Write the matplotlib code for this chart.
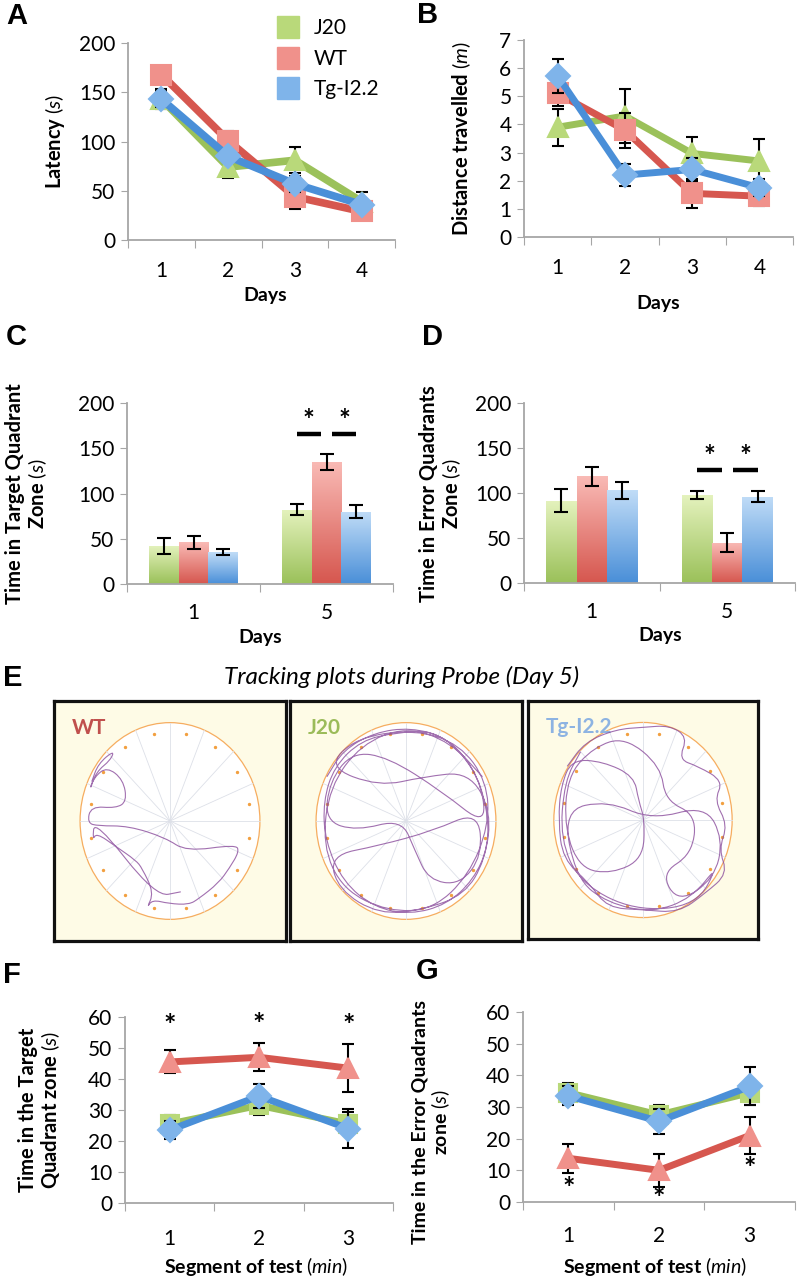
import numpy as np
import matplotlib.pyplot as plt
from matplotlib.lines import Line2D
from matplotlib.patches import Ellipse, PathPatch
from matplotlib.path import Path
import matplotlib.colors as mcolors

plt.rcParams['font.family'] = ['Lato', 'DejaVu Sans']
plt.rcParams['mathtext.fontset'] = 'custom'
plt.rcParams['mathtext.rm'] = 'Lato'
plt.rcParams['mathtext.it'] = 'Lato:italic'
plt.rcParams['mathtext.bf'] = 'Lato:bold'

W, H = 799, 1280

groups = ['J20', 'WT', 'Tg-I2.2']

# A - latency (s), training days 1-4
days_ab = [1, 2, 3, 4]
lat_j20 = [143, 74, 81, 39]
lat_j20_err = [10, 11, 13, 10]
lat_wt = [168, 101, 44, 29]
lat_wt_err = [8, 10, 13, 6]
lat_tg = [143, 85, 57, 36]
lat_tg_err = [8, 6, 8, 5]

# B - distance travelled (m)
dist_j20 = [3.9, 4.3, 2.97, 2.7]
dist_j20_err = [0.65, 0.95, 0.6, 0.8]
dist_wt = [5.1, 3.8, 1.55, 1.45]
dist_wt_err = [0.45, 0.62, 0.52, 0.35]
dist_tg = [5.72, 2.2, 2.4, 1.75]
dist_tg_err = [0.6, 0.38, 0.4, 0.3]

# C / D - probe, days 1 and 5
days_cd = ['1', '5']
target_j20 = [42, 82]
target_j20_err = [8.5, 6]
target_wt = [46, 135]
target_wt_err = [7.5, 8.5]
target_tg = [35, 80]
target_tg_err = [3.5, 7.5]

error_j20 = [91.5, 97.5]
error_j20_err = [13, 4.5]
error_wt = [118.5, 45]
error_wt_err = [10.5, 10.5]
error_tg = [103, 96]
error_tg_err = [9.5, 6]

# F / G - per-minute segment of the probe test
segments = [1, 2, 3]
seg_target_j20 = [25.5, 31.5, 25.5]
seg_target_j20_err = [3, 3, 3.7]
seg_target_wt = [45.5, 47, 43.5]
seg_target_wt_err = [3.7, 4.5, 7.7]
seg_target_tg = [23.5, 34.5, 24]
seg_target_tg_err = [3, 4, 6.2]

seg_error_j20 = [34.5, 27.5, 34.5]
seg_error_j20_err = [3, 3, 4]
seg_error_wt = [13.8, 10, 21]
seg_error_wt_err = [4.6, 5.3, 5.8]
seg_error_tg = [33.5, 25.5, 36.5]
seg_error_tg_err = [3, 4, 6]

f_star_y = [57, 57.5, 57]
g_star_y = [4.0, 1.0, 10.5]

# E - tracking paths (normalised pool coordinates)
wt_track_x = [-0.87, -0.80, -0.62, -0.66, -0.82, -0.90, -0.84, -0.70, -0.52, -0.48, -0.60, -0.88,
              -0.92, -0.80, -0.46, -0.05, 0.18, 0.73, 0.77, 0.66, 0.54, 0.32, 0.21, -0.01, -0.20,
              -0.26, -0.18, -0.31, -0.38, -0.60, -0.82, -0.86, -0.84, -0.16, 0.12]
wt_track_y = [0.40, 0.58, 0.72, 0.62, 0.50, 0.30, 0.45, 0.55, 0.42, 0.20, 0.13, 0.15,
              -0.02, -0.05, -0.05, -0.17, -0.31, -0.24, -0.31, -0.48, -0.63, -0.79, -0.85, -0.84, -0.80,
              -0.89, -0.73, -0.48, -0.40, -0.26, -0.12, -0.20, 0.02, -0.77, -0.72]

j20_track_x = [-0.88, -0.70, -0.35, 0.05, 0.45, 0.75, 0.90, 0.92, 0.75, 0.45, 0.05, -0.35, -0.70,
               -0.90, -0.92, -0.80, -0.50, -0.10, 0.30, 0.62, 0.85, 0.88, 0.40, -0.20, -0.60, -0.85,
               -0.90, -0.55, -0.05, 0.10, 0.25, 0.60, 0.85, 0.80, 0.30, -0.30, -0.85, -0.75, -0.30,
               0.20, 0.65, 0.88, 0.95, 0.70, 0.20, -0.30, -0.88, -0.55, 0.10, 0.60, 0.90, 0.92,
               0.70, 0.30, -0.20, -0.70, -0.93, -0.85, -0.50, 0.00, 0.50, 0.85]
j20_track_y = [0.45, 0.72, 0.90, 0.95, 0.85, 0.55, 0.15, -0.25, -0.60, -0.85, -0.95, -0.88, -0.62,
               -0.20, 0.20, 0.55, 0.82, 0.90, 0.92, 0.70, 0.35, -0.05, 0.30, 0.65, 0.70, 0.40,
               0.00, -0.10, 0.02, -0.30, -0.60, -0.65, -0.35, 0.10, -0.10, -0.25, -0.35, -0.70, -0.95,
               -0.90, -0.75, -0.40, 0.10, 0.50, 0.45, 0.35, 0.55, 0.85, 0.93, 0.78, 0.40, -0.05,
               -0.55, -0.90, -0.92, -0.70, -0.25, 0.35, 0.78, 0.96, 0.80, 0.45]

tg_track_x = [-0.85, -0.65, -0.30, 0.00, 0.30, 0.50, 0.40, 0.62, 0.90, 0.80, 0.95, 0.85, 0.95,
              0.70, 0.40, 0.00, -0.40, -0.60, -0.90, -0.95, -0.92, -0.80, -0.45, -0.10, -0.05, 0.02,
              0.00, -0.35, -0.70, -0.88, -0.85, -0.55, -0.20, 0.20, 0.25, 0.60, 0.55, 0.20, 0.40,
              0.80, 0.90, 0.70, 0.10, -0.40, -0.90, -0.75, -0.40, 0.10, 0.55, 0.85, 0.60, -0.10,
              -0.70, -0.93, -0.88, -0.70]
tg_track_y = [0.55, 0.80, 0.93, 0.95, 0.97, 0.85, 0.62, 0.55, 0.40, 0.20, -0.05, -0.30, -0.55,
              -0.75, -0.95, -0.92, -0.90, -0.65, -0.40, 0.00, 0.35, 0.62, 0.60, 0.45, 0.20, 0.00,
              -0.40, -0.55, -0.50, -0.10, 0.45, 0.75, 0.85, 0.55, 0.20, 0.05, -0.35, -0.55, -0.85,
              -0.60, -0.20, 0.15, 0.00, 0.20, 0.10, -0.60, -0.85, -0.95, -0.80, -0.45, -0.88, -0.93,
              -0.65, -0.20, 0.40, 0.70]

green, red, blue = '#9bc15a', '#d6574f', '#4a8fd8'
green_l, red_l, blue_l = '#b9d97a', '#f0918b', '#7fb4ea'
green_top, red_top, blue_top = '#e4f2bd', '#f9bab5', '#c0dcf7'

TICK = 15
LAB = 14.5

fig = plt.figure(figsize=(W / 100, H / 100), dpi=100)


def px(l, t, r, b):
    return [l / W, 1 - b / H, (r - l) / W, (b - t) / H]


def style_axes(ax, ncat, labels, first, pad):
    ax.spines[['top', 'right']].set_visible(False)
    for s in ['left', 'bottom']:
        ax.spines[s].set_color('#a6a6a6')
        ax.spines[s].set_linewidth(1.3)
    ax.tick_params(axis='y', direction='out', length=5, color='#a6a6a6', labelsize=TICK, pad=4)
    bounds = [first - 0.5 + i for i in range(ncat + 1)]
    ax.set_xticks(bounds)
    ax.set_xticklabels([])
    ax.tick_params(axis='x', which='major', direction='out', length=6, color='#a6a6a6')
    ax.set_xticks([first + i for i in range(ncat)], minor=True)
    ax.set_xticklabels(labels, minor=True)
    ax.tick_params(axis='x', which='minor', length=0, labelsize=TICK, pad=pad)
    ax.set_xlim(bounds[0], bounds[-1])


def line_panel(rect, x, series, ylim, ystep, lw, pad):
    ax = fig.add_axes(px(*rect))
    z = 2
    for y, e, col, face, m, ms in series:
        ax.errorbar(x, y, yerr=e, fmt='none', ecolor='black', elinewidth=1.5,
                    capsize=4.5, capthick=1.5, zorder=z)
        ax.plot(x, y, color=col, lw=lw, marker=m, ms=ms, mfc=face, mec=face,
                mew=1.5, zorder=z + 1, solid_capstyle='round')
        z += 2
    ax.set_ylim(*ylim)
    ax.set_yticks(np.arange(ylim[0], ylim[1] + ystep / 2, ystep))
    style_axes(ax, len(x), [str(v) for v in x], x[0], pad)
    return ax


def gradient_bars(ax, bars, top, bottom):
    cmap = mcolors.LinearSegmentedColormap.from_list('g', [top, bottom])
    grad = np.linspace(0, 1, 64).reshape(-1, 1)
    for b in bars:
        x0, w, h = b.get_x(), b.get_width(), b.get_height()
        im = ax.imshow(grad, cmap=cmap, extent=[x0, x0 + w, 0, h], origin='upper',
                       aspect='auto', zorder=1)
        im.set_clip_path(b)
        b.set_facecolor('none')


def bar_panel(rect, series, sig_y, star_y, pad):
    ax = fig.add_axes(px(*rect))
    w = 0.225
    xs = np.arange(len(days_cd))
    for i, (vals, errs, top, bottom) in enumerate(series):
        pos = xs + (i - 1) * w
        bars = ax.bar(pos, vals, width=w, linewidth=0)
        gradient_bars(ax, bars, top, bottom)
        ax.errorbar(pos, vals, yerr=errs, fmt='none', ecolor='black', elinewidth=1.5,
                    capsize=5, capthick=1.5, zorder=3)
    # significance on day 5
    for a, b in [(1 - w, 1 - 0.04), (1 + 0.04, 1 + w)]:
        ax.plot([a, b], [sig_y, sig_y], color='black', lw=3.2, solid_capstyle='butt')
        ax.text((a + b) / 2, star_y, '*', ha='center', va='center', fontsize=20, fontweight='bold')
    ax.set_ylim(0, 200)
    ax.set_yticks([0, 50, 100, 150, 200])
    style_axes(ax, 2, days_cd, 0, pad)
    return ax


# A
line_panel((128, 43, 395, 240), days_ab,
           [(lat_j20, lat_j20_err, green, green_l, '^', 15),
            (lat_wt, lat_wt_err, red, red_l, 's', 14),
            (lat_tg, lat_tg_err, blue, blue_l, 'D', 12.5)],
           (0, 200), 50, 5.5, 15)
# B
line_panel((524, 40, 793, 237), days_ab,
           [(dist_j20, dist_j20_err, green, green_l, '^', 15),
            (dist_wt, dist_wt_err, red, red_l, 's', 14),
            (dist_tg, dist_tg_err, blue, blue_l, 'D', 12.5)],
           (0, 7), 1, 5, 15)

handles = [Line2D([], [], ls='none', marker='s', ms=16, mfc=c, mec=c) for c in (green_l, red_l, blue_l)]
fig.legend(handles, groups, loc='upper left', bbox_to_anchor=(264 / W, 1 - 8 / H), frameon=False,
           fontsize=15, handletextpad=0.6, labelspacing=0.5, borderpad=0, handlelength=1.3)

# C, D
bar_panel((127, 403, 393, 584),
          [(target_j20, target_j20_err, green_top, green),
           (target_wt, target_wt_err, red_top, red),
           (target_tg, target_tg_err, blue_top, blue)], 166, 180, 14)
bar_panel((524, 403, 795, 583),
          [(error_j20, error_j20_err, green_top, green),
           (error_wt, error_wt_err, red_top, red),
           (error_tg, error_tg_err, blue_top, blue)], 126, 140, 14)

# F, G
axf = line_panel((125, 1017, 393, 1203), segments,
                 [(seg_target_j20, seg_target_j20_err, green, green_l, 's', 13),
                  (seg_target_wt, seg_target_wt_err, red, red_l, '^', 15),
                  (seg_target_tg, seg_target_tg_err, blue, blue_l, 'D', 12)],
                 (0, 60), 10, 5, 19)
axg = line_panel((523, 1012, 795, 1202), segments,
                 [(seg_error_j20, seg_error_j20_err, green, green_l, 's', 13),
                  (seg_error_wt, seg_error_wt_err, red, red_l, '^', 15),
                  (seg_error_tg, seg_error_tg_err, blue, blue_l, 'D', 12)],
                 (0, 60), 10, 5, 17)
for x, y in zip(segments, f_star_y):
    axf.text(x, y, '*', ha='center', va='center', fontsize=21, fontweight='bold', clip_on=False)
for x, y in zip(segments, g_star_y):
    axg.text(x, y, '*', ha='center', va='center', fontsize=21, fontweight='bold', clip_on=False)


# E - tracking plots
def smooth_path(xs, ys):
    # quadratic curves through midpoints, the recorded points act as control points
    pts = np.column_stack([xs, ys])
    mids = (pts[:-1] + pts[1:]) / 2
    verts = [pts[0], mids[0]]
    codes = [Path.MOVETO, Path.LINETO]
    for i in range(1, len(pts) - 1):
        verts += [pts[i], mids[i]]
        codes += [Path.CURVE3, Path.CURVE3]
    verts.append(pts[-1])
    codes.append(Path.LINETO)
    return Path(verts, codes)


def track_panel(rect, label, color, tx, ty):
    ax = fig.add_axes(px(*rect))
    ax.set_facecolor('#fefbe6')
    ax.set_xlim(-1.29, 1.29)
    ax.set_ylim(-1.22, 1.22)
    ax.set_xticks([])
    ax.set_yticks([])
    for s in ax.spines.values():
        s.set_linewidth(2.3)
        s.set_color('#111111')
    ax.add_patch(Ellipse((0, 0), 2, 2, facecolor='white', edgecolor='#f6ad60', lw=0.9))
    ang = np.arange(16) * np.pi / 8
    for a in ang:
        ax.plot([0, np.cos(a)], [0, np.sin(a)], color='#dde0e8', lw=0.6)
    ax.scatter(0.9 * np.cos(ang + np.pi / 16), 0.9 * np.sin(ang + np.pi / 16), s=2, color='#f2a040',
               zorder=3)
    ax.add_patch(PathPatch(smooth_path(tx, ty), facecolor='none', edgecolor='#8a4c9c', lw=0.8,
                           alpha=0.8, zorder=4))
    ax.text(-1.09, 0.95, label, color=color, fontsize=15, fontweight='bold', va='center', ha='left')


track_panel((54, 701, 286, 941), 'WT', '#c0504d', wt_track_x, wt_track_y)
track_panel((290, 701, 522, 941), 'J20', '#9bbb59', j20_track_x, j20_track_y)
track_panel((528, 701, 758, 939), 'Tg-I2.2', '#8db3e2', tg_track_x, tg_track_y)

fig.text(402 / W, 1 - 677 / H, 'Tracking plots during Probe (Day 5)', ha='center', va='center',
         fontsize=17.5, fontstyle='italic')


# axis titles
def ftext(x, y, s, **kw):
    fig.text(x / W, 1 - y / H, s, ha='center', va='center', **kw)


ml = dict(rotation=90, fontsize=LAB, fontweight='bold', multialignment='center', linespacing=1.05)
ftext(55, 141, 'Latency $\\mathit{(s)}$', **ml)
ftext(462, 139, 'Distance travelled $\\mathit{(m)}$', **ml)
ftext(27, 494, 'Time in Target Quadrant\nZone $\\mathit{(s)}$', **ml)
ftext(441, 494, 'Time in Error Quadrants\nZone $\\mathit{(s)}$', **ml)
ftext(40, 1110, 'Time in the Target\nQuadrant zone $\\mathit{(s)}$', **ml)
ml['fontsize'] = 14
ftext(432, 1122, 'Time in the Error Quadrants\nzone $\\mathit{(s)}$', **ml)

ftext(265, 296, 'Days', fontsize=14, fontweight='bold')
ftext(658, 303, 'Days', fontsize=14, fontweight='bold')
ftext(260, 637, 'Days', fontsize=14, fontweight='bold')
ftext(660, 636, 'Days', fontsize=14, fontweight='bold')
ftext(256, 1266, 'Segment of test $\\mathit{(min)}$', fontsize=14, fontweight='bold')
ftext(655, 1266, 'Segment of test $\\mathit{(min)}$', fontsize=14, fontweight='bold')

# panel letters
for lab, x, y in [('A', 17, 16), ('B', 428, 15), ('C', 16, 337), ('D', 432, 337),
                  ('E', 13, 678), ('F', 12, 975), ('G', 427, 971)]:
    fig.text(x / W, 1 - y / H, lab, ha='center', va='center', fontsize=21, fontweight='bold',
             family='Liberation Sans')

fig.savefig('out.png', dpi=100)
